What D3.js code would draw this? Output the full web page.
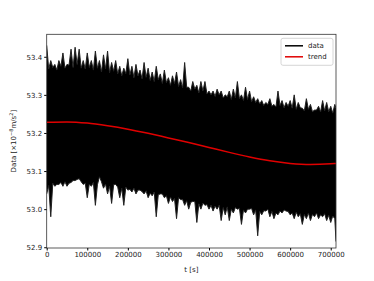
<!DOCTYPE html>
<html>
<head>
<meta charset="utf-8">
<script src="https://d3js.org/d3.v7.min.js"></script>
<style>
  body { margin: 0; background: #fff; }
  text { font-family: "DejaVu Sans", sans-serif; }
</style>
</head>
<body>
<script>
// sample times of the spike peaks (s)
var times = d3.range(0, 720000, 10000).concat([713000]);

// spike peaks on the upper edge of the noisy data band
var dataHigh = [53.43, 53.39, 53.38, 53.39, 53.41, 53.38, 53.42, 53.425, 53.42, 53.39,
  53.41, 53.39, 53.415, 53.39, 53.405, 53.415, 53.385, 53.39, 53.375, 53.37,
  53.395, 53.375, 53.38, 53.365, 53.385, 53.37, 53.36, 53.375, 53.355, 53.365,
  53.345, 53.35, 53.36, 53.34, 53.385, 53.32, 53.335, 53.325, 53.335, 53.335,
  53.31, 53.31, 53.315, 53.31, 53.30, 53.31, 53.315, 53.335, 53.30, 53.32,
  53.31, 53.295, 53.29, 53.285, 53.28, 53.29, 53.275, 53.31, 53.285, 53.28,
  53.285, 53.30, 53.28, 53.265, 53.29, 53.275, 53.26, 53.27, 53.285, 53.28,
  53.27, 53.275, 53.265];

// spike peaks on the lower edge
var dataLow = [53.04, 52.98, 53.06, 53.065, 53.06, 53.06, 53.07, 53.075, 53.08, 53.065,
  53.03, 53.06, 53.01, 53.085, 53.055, 53.04, 53.015, 53.065, 53.03, 53.01,
  53.05, 53.045, 53.04, 53.05, 53.04, 53.03, 53.035, 52.98, 53.04, 53.03,
  53.015, 53.02, 52.975, 53.025, 53.01, 53.0, 53.02, 52.965, 53.0, 53.01,
  53.0, 52.995, 53.0, 52.97, 52.985, 52.97, 52.99, 53.0, 52.96, 52.99,
  53.0, 52.985, 52.93, 52.985, 52.995, 52.98, 52.975, 52.985, 52.99, 52.995,
  52.985, 52.975, 52.98, 52.96, 52.975, 52.97, 52.98, 52.975, 52.98, 52.97,
  52.965, 52.975, 52.915];

// base level of the band edges between the spikes (at 5000 + 10000 k s)
var baseHigh = [53.368, 53.372, 53.365, 53.375, 53.37, 53.378, 53.372, 53.38, 53.37, 53.368,
  53.372, 53.365, 53.37, 53.36, 53.368, 53.358, 53.362, 53.355, 53.35, 53.356,
  53.352, 53.345, 53.35, 53.342, 53.346, 53.338, 53.335, 53.34, 53.33, 53.332,
  53.325, 53.33, 53.322, 53.318, 53.32, 53.31, 53.315, 53.305, 53.31, 53.302,
  53.3, 53.296, 53.3, 53.292, 53.295, 53.288, 53.292, 53.29, 53.285, 53.288,
  53.282, 53.28, 53.276, 53.272, 53.275, 53.27, 53.268, 53.272, 53.266, 53.27,
  53.265, 53.262, 53.266, 53.258, 53.262, 53.256, 53.26, 53.255, 53.258, 53.256, 53.252];
var baseLow = [53.062, 53.068, 53.065, 53.07, 53.072, 53.068, 53.075, 53.078, 53.072, 53.068,
  53.066, 53.07, 53.064, 53.072, 53.066, 53.06, 53.064, 53.058, 53.055, 53.058,
  53.052, 53.055, 53.05, 53.046, 53.048, 53.042, 53.045, 53.038, 53.04, 53.035,
  53.032, 53.028, 53.03, 53.025, 53.022, 53.018, 53.02, 53.014, 53.016, 53.012,
  53.01, 53.008, 53.01, 53.004, 53.006, 53.0, 53.004, 53.002, 52.998, 53.0,
  53.002, 52.998, 52.994, 52.996, 53.0, 52.994, 52.99, 52.995, 52.998, 52.994,
  52.99, 52.992, 52.988, 52.986, 52.99, 52.986, 52.99, 52.985, 52.988, 52.984, 52.982];

// smooth trend
var trendT = [0, 50000, 100000, 150000, 200000, 250000, 300000, 350000, 400000,
  450000, 500000, 550000, 600000, 650000, 700000, 713000];
var trendV = [53.228, 53.229, 53.226, 53.219, 53.21, 53.199, 53.187, 53.175, 53.162,
  53.149, 53.137, 53.127, 53.12, 53.117, 53.119, 53.12];

var xTicks = [0, 100000, 200000, 300000, 400000, 500000, 600000, 700000];
var yTicks = [52.9, 53.0, 53.1, 53.2, 53.3, 53.4];

// set the dimensions and margins of the graph
var margin = {top: 34.3, right: 38, bottom: 33, left: 46.7},
    width = 374 - margin.left - margin.right,
    height = 281 - margin.top - margin.bottom;

var x = d3.scaleLinear().domain([0, 713000]).range([0, width]);
var y = d3.scaleLinear().domain([52.898, 53.459]).range([height, 0]);

var svg = d3.select("body").append("svg")
    .attr("width", 374)
    .attr("height", 281)
  .append("g")
    .attr("transform", "translate(" + margin.left + "," + margin.top + ")");

// band edges: spike peak, then base level half a step later
var band = [];
times.forEach(function(t, i) {
  band.push({t: t, hi: dataHigh[i], lo: dataLow[i]});
  if (i < baseHigh.length) band.push({t: t + 5000, hi: baseHigh[i], lo: baseLow[i]});
});

svg.append("clipPath").attr("id", "clip")
  .append("rect").attr("width", width).attr("height", height);

var plot = svg.append("g").attr("clip-path", "url(#clip)");

// data band
plot.append("path")
    .datum(band)
    .attr("fill", "#000")
    .attr("d", d3.area()
      .x(function(d) { return x(d.t); })
      .y0(function(d) { return y(d.lo); })
      .y1(function(d) { return y(d.hi); }));

["hi", "lo"].forEach(function(k) {
  plot.append("path")
      .datum(band)
      .attr("fill", "none")
      .attr("stroke", "#222")
      .attr("stroke-width", 1)
      .attr("d", d3.line()
        .x(function(d) { return x(d.t); })
        .y(function(d) { return y(d[k]); }));
});

// trend line
plot.append("path")
    .datum(trendT.map(function(t, i) { return {t: t, v: trendV[i]}; }))
    .attr("fill", "none")
    .attr("stroke", "#e00000")
    .attr("stroke-width", 1.5)
    .attr("d", d3.line()
      .curve(d3.curveMonotoneX)
      .x(function(d) { return x(d.t); })
      .y(function(d) { return y(d.v); }));

// frame
svg.append("rect")
    .attr("width", width)
    .attr("height", height)
    .attr("fill", "none")
    .attr("stroke", "#333")
    .attr("stroke-width", 0.8);

// add the X Axis
var gx = svg.append("g")
    .attr("transform", "translate(0," + height + ")")
    .call(d3.axisBottom(x).tickValues(xTicks).tickSize(2.5).tickPadding(2).tickFormat(d3.format("d")));
gx.select(".domain").remove();
gx.selectAll("text").attr("font-size", 7).attr("fill", "#222")
    .style("font-family", "DejaVu Sans, sans-serif");

// add the Y Axis
var gy = svg.append("g")
    .call(d3.axisLeft(y).tickValues(yTicks).tickSize(2.5).tickPadding(2).tickFormat(d3.format(".1f")));
gy.select(".domain").remove();
gy.selectAll("text").attr("font-size", 7).attr("fill", "#222")
    .style("font-family", "DejaVu Sans, sans-serif");

// axis labels
svg.append("text")
    .attr("x", width / 2)
    .attr("y", height + 24)
    .attr("text-anchor", "middle")
    .attr("font-size", 7)
    .attr("fill", "#222")
    .text("t [s]");

var yl = svg.append("text")
    .attr("transform", "translate(" + (-31) + "," + (height / 2) + ") rotate(-90)")
    .attr("text-anchor", "middle")
    .attr("font-size", 7)
    .attr("fill", "#222");
yl.append("tspan").text("Data [\u00d710");
yl.append("tspan").attr("font-size", 5).attr("dy", -3).text("\u22128");
yl.append("tspan").attr("dy", 3).text("m/s");
yl.append("tspan").attr("font-size", 5).attr("dy", -3).text("2");
yl.append("tspan").attr("dy", 3).text("]");

// legend
var lg = svg.append("g").attr("transform", "translate(" + (width - 55) + ",4)");
lg.append("rect")
    .attr("width", 52)
    .attr("height", 27)
    .attr("rx", 2)
    .attr("fill", "#fff")
    .attr("fill-opacity", 0.85)
    .attr("stroke", "#ccc")
    .attr("stroke-width", 0.8);
[["data", "#000"], ["trend", "#e00000"]].forEach(function(d, i) {
  var yy = 7.5 + i * 11;
  lg.append("line")
      .attr("x1", 4).attr("x2", 22)
      .attr("y1", yy).attr("y2", yy)
      .attr("stroke", d[1])
      .attr("stroke-width", 1.5);
  lg.append("text")
      .attr("x", 27)
      .attr("y", yy + 2.5)
      .attr("font-size", 7)
      .attr("fill", "#222")
      .text(d[0]);
});
</script>
</body>
</html>
